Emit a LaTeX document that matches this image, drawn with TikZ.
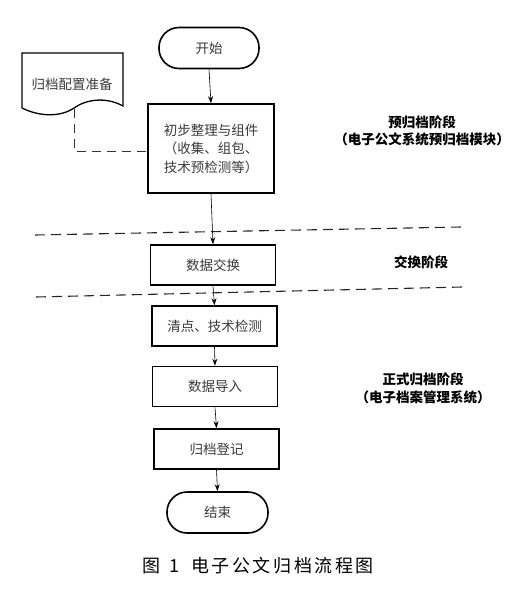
\documentclass[tikz,border=0pt]{standalone}
\usepackage{fontspec}
\setmainfont{Noto Sans CJK SC}
\newfontfamily\capfont[LetterSpace=14]{Noto Sans CJK SC}
\usetikzlibrary{arrows.meta}
\definecolor{txtgray}{HTML}{3A3A3A}
\tikzset{
  box/.style={draw=black, line width=1.6pt, minimum width=125pt, minimum height=40pt,
    inner sep=0pt, text=txtgray, font=\fontsize{13.5}{18.5}\selectfont, align=center},
  term/.style={box, rounded corners=20pt, minimum width=100pt, minimum height=41pt},
  flow/.style={draw=black, line width=0.6pt, -{Stealth[length=7pt,width=5pt]}},
  sep/.style={draw=black!85, line width=1.1pt, dash pattern=on 10pt off 6pt},
  stage/.style={font=\bfseries\fontsize{13.5}{17.5}\selectfont, align=center, inner sep=0pt},
  docline/.style={draw=black, line width=1.3pt},
  link/.style={draw=black!80, line width=0.7pt, dash pattern=on 9pt off 6pt}
}
\begin{document}
\begin{tikzpicture}[x=1pt,y=-1pt]
\useasboundingbox (0,0) rectangle (523,595);
% nodes
\node[term] (start) at (209,48) {开始};
\node[box, minimum width=126pt, minimum height=89pt] (b1) at (211,148.5) {初步整理与组件\\（收集、组包、\\技术预检测等）};
\node[box] (b2) at (213,265) {数据交换};
\node[box] (b3) at (214.5,326) {清点、技术检测};
\node[box] (b4) at (215,386.5) {数据导入};
\node[box] (b5) at (216.5,449) {归档登记};
\node[term, minimum width=101pt] (end) at (217.5,512.5) {结束};
% document shape
\draw[docline] (22,108) -- (22,53) -- (123,53) -- (123,106)
  .. controls (105,96) and (85,100) .. (74,108)
  .. controls (61,117) and (40,117) .. (22,108);
\node[inner sep=0pt, text=txtgray, font=\fontsize{13.5}{17}\selectfont] (doc) at (72,84) {归档配置准备};
\coordinate (docb) at (74,109);
\coordinate (dj) at (74,151);
\draw[link] (docb) -- (dj) -- (dj -| b1.west);
% flow arrows
\draw[flow] (start.south) -- (b1.north);
\draw[flow] (b1.south) -- (b2.north);
\draw[flow] (b2.south) -- (b3.north);
\draw[flow] (b3.south) -- (b4.north);
\draw[flow] (b4.south) -- (b5.north);
\draw[flow] (b5.south) -- (end.north);
% separators
\coordinate (s1a) at (35,235); \coordinate (s1b) at (461,227);
\coordinate (s2a) at (36,297); \coordinate (s2b) at (462,287);
\draw[sep] (s1a) -- (s1b);
\draw[sep] (s2a) -- (s2b);
% stage labels
\node[stage] (st1) at (422,131) {预归档阶段\\（电子公文系统预归档模块）};
\node[stage] (st2) at (421,262) {交换阶段};
\node[stage] (st3) at (423,388.5) {正式归档阶段\\（电子档案管理系统）};
% caption
\node[inner sep=0pt, font=\capfont\fontsize{18}{20}\selectfont] (cap) at (258,566) {图\hspace{9pt}1\hspace{12pt}电子公文归档流程图};
\end{tikzpicture}
\end{document}
